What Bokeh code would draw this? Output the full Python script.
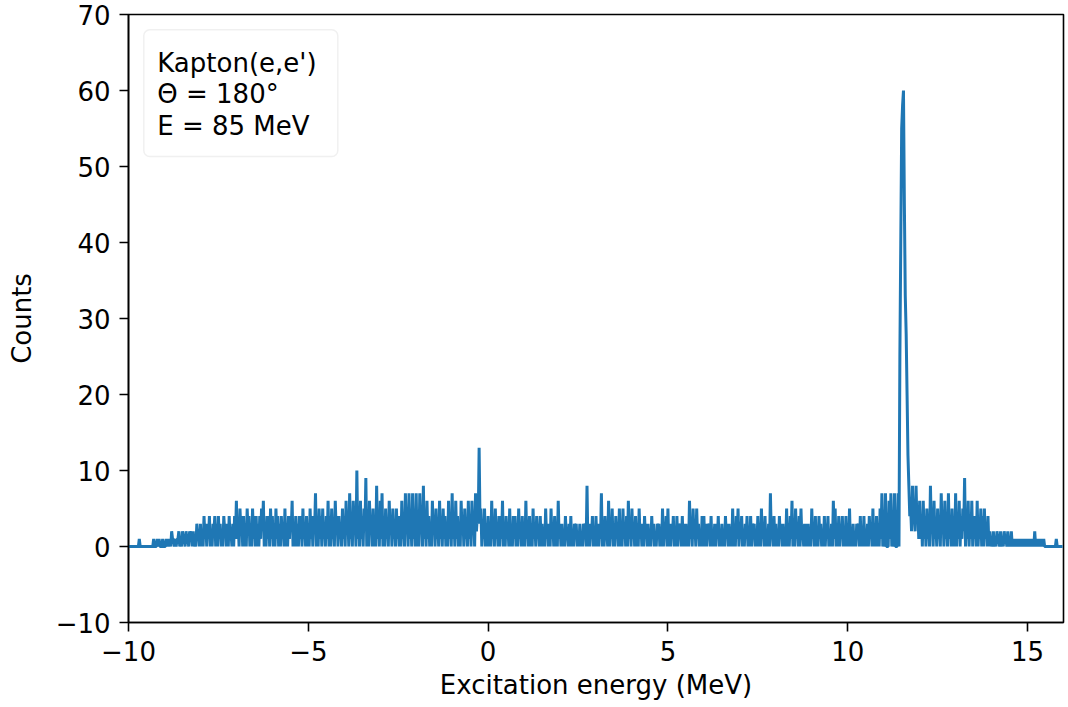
from bokeh.plotting import figure
from bokeh.models import Range1d, FixedTicker, BoxAnnotation, Label
from bokeh.embed import file_html
from bokeh.resources import INLINE

# Counts per 0.05 MeV bin (bin centres), one list per 1 MeV of excitation energy
counts_m10 = [0, 0, 0, 0, 0, 0, 1, 0, 0, 0, 0, 0, 0, 0, 1, 0, 1, 1, 0, 1]
counts_m9 = [0, 1, 1, 1, 2, 1, 1, 1, 2, 1, 2, 1, 2, 1, 2, 2, 2, 1, 3, 2]
counts_m8 = [3, 2, 4, 3, 3, 4, 2, 3, 4, 3, 4, 3, 2, 4, 3, 3, 4, 2, 3, 4]
counts_m7 = [6, 3, 5, 4, 4, 3, 5, 4, 3, 5, 4, 4, 3, 4, 5, 6, 3, 4, 4, 5]
counts_m6 = [4, 3, 5, 4, 3, 4, 3, 5, 3, 4, 4, 6, 3, 4, 3, 4, 4, 5, 3, 4]
counts_m5 = [3, 5, 4, 4, 7, 3, 5, 4, 5, 3, 4, 6, 4, 5, 3, 6, 4, 4, 3, 5]
counts_m4 = [4, 6, 4, 7, 3, 6, 4, 10, 4, 6, 4, 5, 9, 3, 6, 4, 5, 3, 8, 4]
counts_m3 = [6, 7, 4, 5, 3, 6, 4, 5, 3, 5, 4, 4, 6, 3, 7, 4, 7, 4, 7, 4]
counts_m2 = [7, 3, 7, 4, 8, 4, 6, 4, 3, 6, 4, 5, 3, 6, 4, 5, 4, 3, 6, 4]
counts_m1 = [7, 4, 6, 4, 3, 6, 4, 5, 3, 6, 4, 6, 4, 7, 4, 13, 5, 3, 5, 3]
counts_p0 = [4, 3, 6, 3, 5, 3, 4, 4, 6, 3, 4, 3, 5, 3, 4, 4, 3, 5, 3, 4]
counts_p1 = [3, 6, 3, 4, 2, 5, 3, 4, 3, 4, 3, 2, 5, 3, 3, 5, 3, 4, 2, 6]
counts_p2 = [3, 3, 2, 4, 2, 3, 4, 2, 3, 3, 2, 3, 2, 3, 3, 8, 2, 3, 4, 2]
counts_p3 = [4, 3, 3, 7, 3, 4, 2, 6, 3, 5, 3, 4, 3, 5, 2, 5, 3, 4, 6, 3]
counts_p4 = [5, 3, 4, 2, 5, 3, 3, 4, 3, 3, 2, 4, 3, 2, 3, 3, 2, 5, 3, 4]
counts_p5 = [5, 3, 3, 4, 2, 4, 3, 3, 4, 3, 3, 2, 6, 3, 5, 3, 5, 3, 2, 4]
counts_p6 = [4, 3, 3, 3, 4, 2, 3, 3, 4, 2, 3, 2, 4, 3, 3, 2, 5, 2, 4, 5]
counts_p7 = [3, 4, 2, 3, 4, 2, 4, 3, 3, 2, 4, 2, 5, 3, 4, 2, 3, 7, 2, 4]
counts_p8 = [3, 2, 4, 3, 3, 2, 5, 2, 4, 6, 3, 5, 3, 4, 5, 2, 3, 3, 3, 2]
counts_p9 = [5, 3, 4, 2, 4, 3, 2, 4, 3, 4, 2, 3, 6, 5, 3, 4, 3, 4, 2, 4]
counts_p10 = [3, 5, 2, 3, 2, 3, 3, 4, 2, 4, 2, 3, 4, 3, 5, 3, 4, 2, 5, 7]
counts_p11 = [1, 7, 0, 6, 7, 1, 7, 0, 7, 25, 55, 60, 33, 20, 8, 5, 8, 4, 8, 5]
counts_p12 = [6, 4, 6, 4, 5, 3, 8, 4, 6, 3, 5, 3, 7, 4, 6, 3, 7, 4, 5, 3]
counts_p13 = [7, 4, 6, 4, 5, 9, 4, 6, 4, 6, 4, 4, 6, 3, 5, 4, 5, 3, 4, 2]
counts_p14 = [1, 2, 1, 2, 1, 2, 1, 2, 1, 2, 1, 2, 1, 1, 1, 1, 1, 1, 1, 1]
counts_p15 = [1, 1, 1, 1, 2, 1, 1, 1, 1, 1, 0, 0, 0, 0, 0, 0, 1, 0, 0, 0]

# Counts of the narrow bins lying half-way between the bins above
mid_m10 = [0, 0, 0, 0, 0, 0, 0, 0, 0, 0, 0, 0, 0, 0, 0, 0, 0, 0, 0, 0]
mid_m9 = [0, 0, 0, 0, 1, 0, 0, 1, 0, 0, 1, 0, 1, 0, 1, 0, 0, 0, 1, 0]
mid_m8 = [0, 0, 1, 0, 1, 0, 0, 2, 0, 0, 1, 0, 0, 2, 0, 0, 1, 0, 0, 1]
mid_m7 = [1, 0, 2, 0, 0, 0, 2, 0, 0, 1, 0, 0, 0, 1, 2, 0, 0, 1, 0, 1]
mid_m6 = [0, 0, 1, 0, 0, 1, 0, 0, 0, 1, 2, 0, 0, 0, 0, 1, 0, 1, 0, 0]
mid_m5 = [0, 1, 0, 2, 0, 0, 1, 0, 1, 0, 1, 0, 0, 1, 0, 2, 0, 1, 0, 1]
mid_m4 = [0, 2, 0, 1, 0, 2, 0, 1, 0, 1, 0, 2, 0, 0, 2, 0, 0, 0, 1, 0]
mid_m3 = [1, 0, 0, 1, 0, 2, 0, 1, 0, 1, 0, 0, 1, 0, 2, 0, 1, 0, 1, 0]
mid_m2 = [0, 0, 2, 0, 1, 0, 1, 0, 0, 2, 0, 1, 0, 1, 0, 1, 0, 0, 1, 0]
mid_m1 = [1, 0, 1, 0, 0, 2, 0, 1, 0, 1, 0, 2, 0, 2, 3, 3, 0, 1, 0, 0]
mid_p0 = [0, 0, 1, 0, 1, 0, 0, 1, 0, 0, 1, 0, 0, 0, 1, 0, 0, 1, 0, 0]
mid_p1 = [0, 1, 0, 0, 0, 1, 0, 1, 0, 0, 0, 0, 1, 0, 0, 1, 0, 0, 0, 1]
mid_p2 = [0, 0, 0, 1, 0, 0, 0, 0, 1, 0, 0, 0, 0, 1, 0, 0, 0, 1, 0, 0]
mid_p3 = [0, 0, 1, 0, 0, 1, 0, 0, 1, 0, 0, 1, 0, 0, 0, 1, 0, 0, 1, 0]
mid_p4 = [1, 0, 0, 0, 1, 0, 0, 1, 0, 0, 0, 1, 0, 0, 1, 0, 0, 0, 1, 0]
mid_p5 = [0, 0, 1, 0, 0, 0, 1, 0, 0, 0, 0, 0, 1, 0, 1, 0, 1, 0, 0, 0]
mid_p6 = [0, 0, 1, 0, 0, 0, 0, 1, 0, 0, 0, 0, 1, 0, 0, 0, 0, 0, 1, 0]
mid_p7 = [1, 0, 0, 1, 0, 0, 0, 1, 0, 0, 0, 0, 1, 0, 0, 0, 0, 1, 0, 0]
mid_p8 = [0, 0, 1, 0, 0, 0, 0, 0, 1, 0, 0, 1, 0, 0, 1, 0, 0, 0, 0, 0]
mid_p9 = [1, 0, 0, 0, 1, 0, 0, 0, 1, 0, 0, 0, 1, 0, 0, 0, 1, 0, 0, 0]
mid_p10 = [0, 0, 0, 0, 0, 1, 0, 0, 0, 0, 0, 0, 1, 0, 0, 0, 0, 0, 1, 0]
mid_p11 = [0, 0, 0, 1, 0, 0, 0, 0, 0, 40, 58, 45, 28, 12, 4, 2, 3, 2, 3, 1]
mid_p12 = [1, 0, 1, 0, 1, 0, 2, 0, 1, 0, 1, 0, 2, 0, 1, 0, 1, 0, 0, 0]
mid_p13 = [0, 1, 0, 1, 2, 0, 1, 0, 1, 0, 1, 0, 0, 1, 0, 0, 1, 0, 0, 0]
mid_p14 = [0, 0, 0, 1, 0, 0, 0, 1, 0, 0, 0, 0, 0, 0, 0, 0, 0, 0, 0, 0]
mid_p15 = [0, 0, 0, 0, 0, 0, 0, 0, 0, 0, 0, 0, 0, 0, 0, 0, 0, 0, 0, 0]

bin_start = -10.0   # MeV, centre of the first bin
bin_width = 0.05    # MeV

x_ticks = [-10, -5, 0, 5, 10, 15]
y_ticks = [-10, 0, 10, 20, 30, 40, 50, 60, 70]
legend_lines = ["Kapton(e,e')", "\u0398 = 180\u00b0", "E = 85 MeV"]

counts = (counts_m10 + counts_m9 + counts_m8 + counts_m7 + counts_m6 + counts_m5
          + counts_m4 + counts_m3 + counts_m2 + counts_m1 + counts_p0 + counts_p1
          + counts_p2 + counts_p3 + counts_p4 + counts_p5 + counts_p6 + counts_p7
          + counts_p8 + counts_p9 + counts_p10 + counts_p11 + counts_p12
          + counts_p13 + counts_p14 + counts_p15)
mids = (mid_m10 + mid_m9 + mid_m8 + mid_m7 + mid_m6 + mid_m5 + mid_m4 + mid_m3
        + mid_m2 + mid_m1 + mid_p0 + mid_p1 + mid_p2 + mid_p3 + mid_p4 + mid_p5
        + mid_p6 + mid_p7 + mid_p8 + mid_p9 + mid_p10 + mid_p11 + mid_p12
        + mid_p13 + mid_p14 + mid_p15)

energy, values = [], []
for i, (c, m) in enumerate(zip(counts, mids)):
    e = bin_start + bin_width * i
    energy += [round(e, 4), round(e + bin_width / 2, 4)]
    values += [c, m]

FONT = "DejaVu Sans"
FS = "26px"

p = figure(width=1066, height=706, output_backend="svg", toolbar_location=None,
           x_range=Range1d(-10, 16), y_range=Range1d(-10, 70),
           min_border_left=128, min_border_right=3, min_border_top=14,
           min_border_bottom=84)

p.line(energy, values, line_color="#1f77b4", line_width=3)

p.xgrid.visible = False
p.ygrid.visible = False
p.outline_line_color = "black"
p.outline_line_width = 1.6
p.background_fill_color = "white"
p.border_fill_color = "white"

p.xaxis.ticker = FixedTicker(ticks=x_ticks)
p.yaxis.ticker = FixedTicker(ticks=y_ticks)
p.xaxis.major_label_overrides = {t: ("\u2212" + str(-t) if t < 0 else str(t)) for t in x_ticks}
p.yaxis.major_label_overrides = {t: ("\u2212" + str(-t) if t < 0 else str(t)) for t in y_ticks}

for ax in (p.xaxis[0], p.yaxis[0]):
    ax.axis_line_color = "black"
    ax.axis_line_width = 1.6
    ax.major_tick_line_color = "black"
    ax.major_tick_line_width = 1.6
    ax.major_tick_in = 0
    ax.major_tick_out = 9
    ax.minor_tick_line_color = None
    ax.major_label_text_font = FONT
    ax.major_label_text_font_size = FS
    ax.major_label_text_color = "black"
    ax.axis_label_text_font = FONT
    ax.axis_label_text_font_size = FS
    ax.axis_label_text_font_style = "normal"
    ax.axis_label_text_color = "black"

p.xaxis.axis_label = "Excitation energy (MeV)"
p.yaxis.axis_label = "Counts"
p.xaxis.major_label_standoff = 9
p.xaxis.axis_label_standoff = 6
p.yaxis.major_label_standoff = 9
p.yaxis.axis_label_standoff = 16

box = BoxAnnotation(left=-9.575, right=-4.18, top=67.99, bottom=51.32,
                    fill_color="white", fill_alpha=0.8,
                    line_color="#cccccc", line_width=1.5, border_radius=6)
p.add_layout(box)

for txt, yb in zip(legend_lines, [63.64, 59.56, 55.39]):
    p.add_layout(Label(x=-9.20, y=yb, text=txt, text_font=FONT,
                       text_font_size=FS, text_color="black",
                       text_baseline="alphabetic"))

open("out.html", "w").write(file_html(p, INLINE))
